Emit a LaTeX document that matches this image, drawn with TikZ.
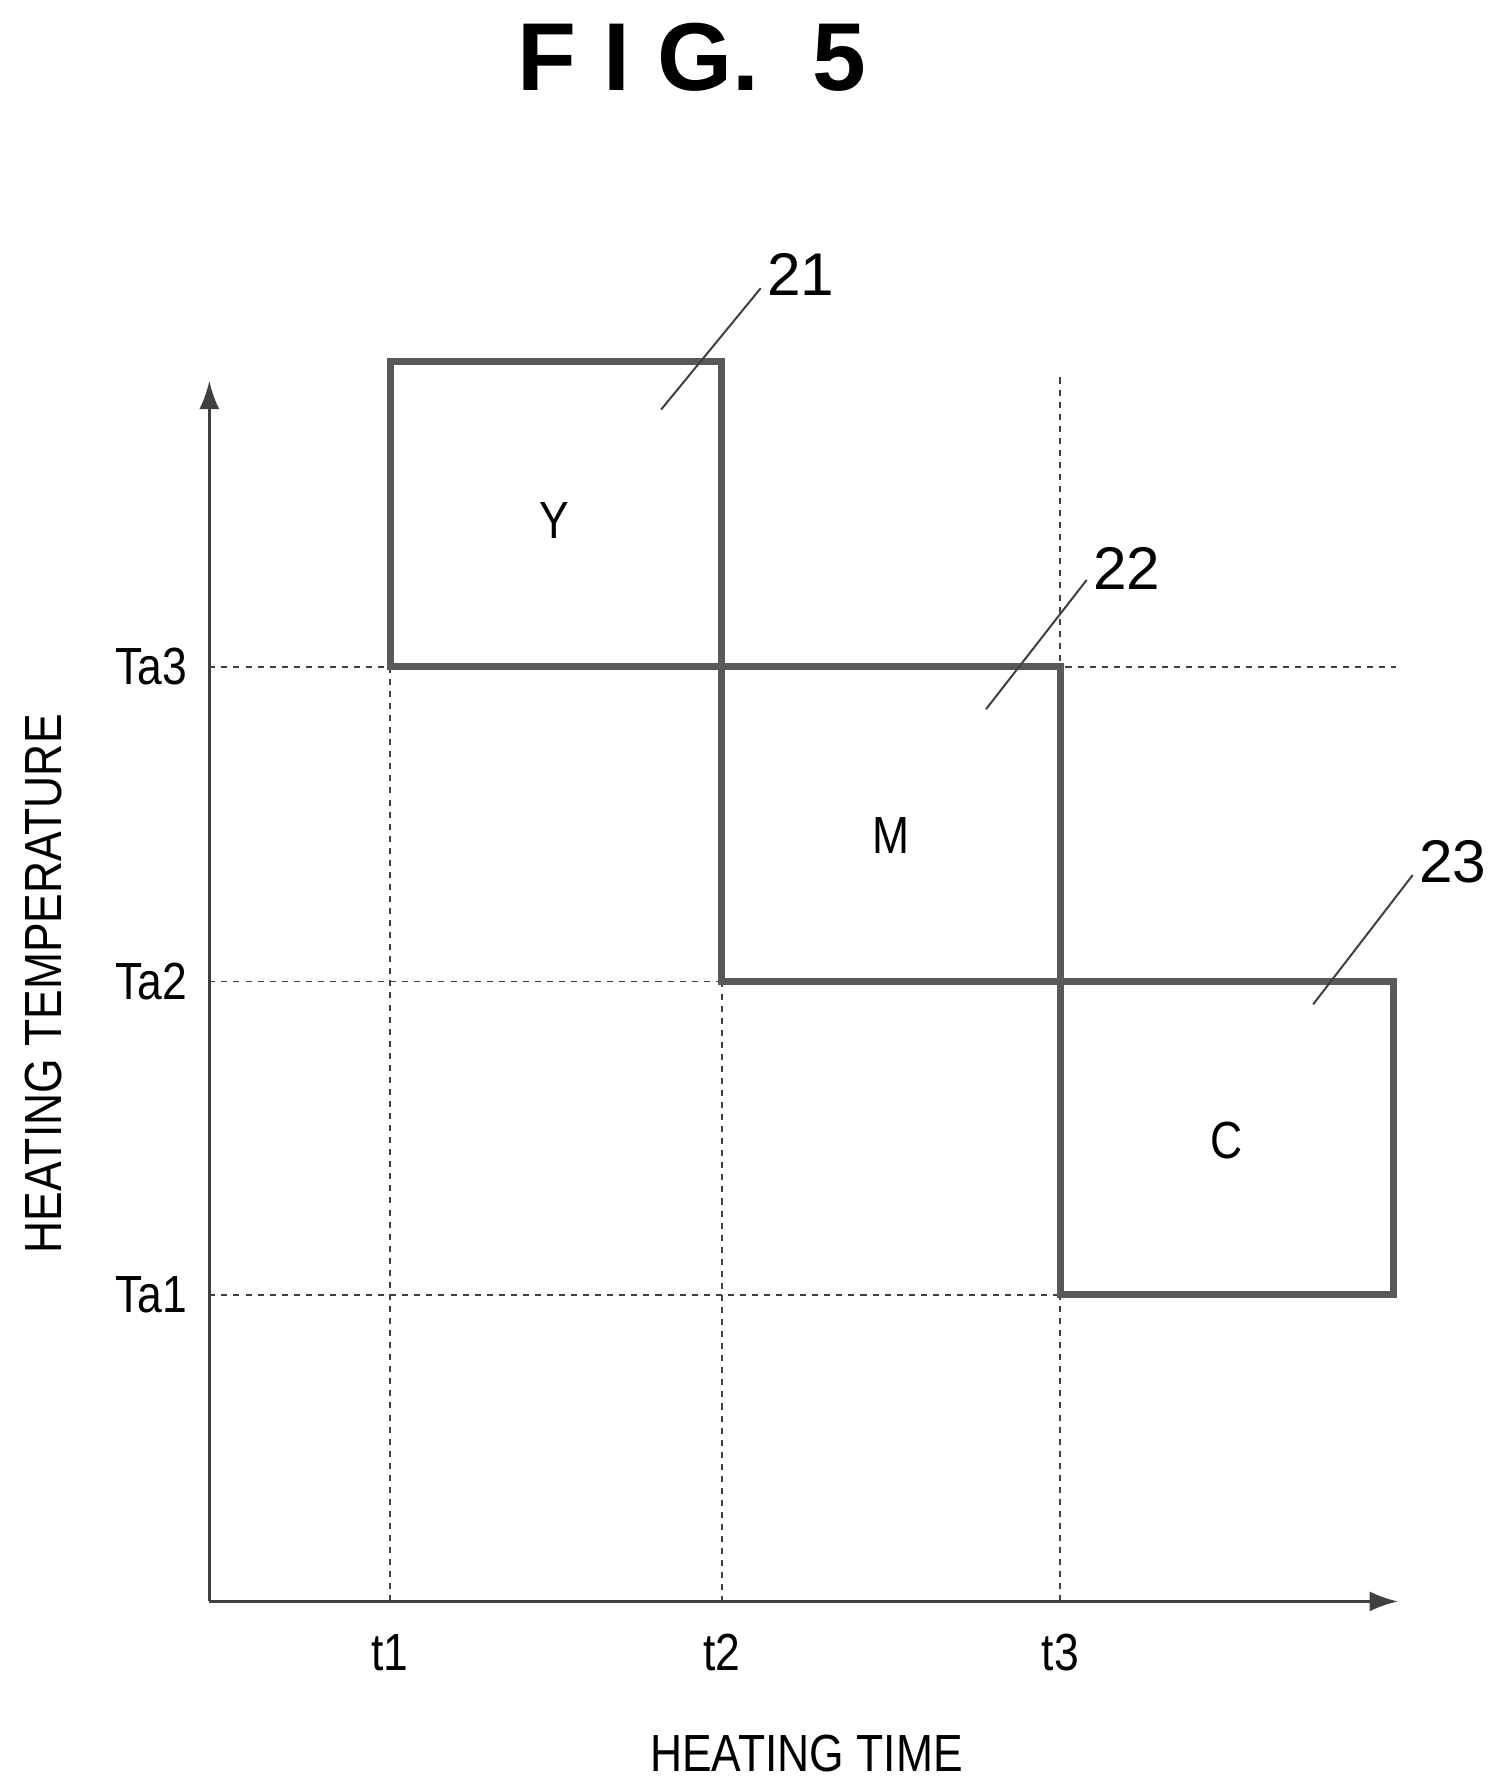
\documentclass[tikz,border=0pt]{standalone}
\usepackage{fontspec}
\setmainfont{Liberation Sans}
\usetikzlibrary{arrows.meta}
\begin{document}
\begin{tikzpicture}[x=0.02cm,y=-0.02cm,
  dsh/.style={draw=black!75,dashed,line width=0.9pt},
  box/.style={draw=black!65,line width=3.5pt,line join=miter},
  lead/.style={draw=black!75,line width=1pt},
  lbl/.style={font=\fontsize{26}{30}\selectfont\addfontfeature{FakeStretch=0.85}},
  num/.style={font=\fontsize{30}{34}\selectfont}]
\useasboundingbox (0,0) rectangle (1305,1557);
\node[font=\fontsize{48}{54}\selectfont\bfseries] (title) at (605,50) {F I G.\ \ 5};
% dashed
\draw[dsh] (183,583) -- (1220,583);
\draw[dsh] (183,858) -- (927,858);
\draw[dsh] (183,1132) -- (927,1132);
\draw[dsh] (341,583) -- (341,1400);
\draw[dsh] (631,858) -- (631,1400);
\draw[dsh] (927,330) -- (927,1400);
% axes
\coordinate (O) at (183,1400);
\coordinate (yt) at (183,333);
\coordinate (xt) at (1222,1400);
\draw[line width=1.3pt,black!75,-{Latex[length=14pt,width=10pt]}] (O) -- (yt);
\draw[line width=1.3pt,black!75,-{Latex[length=14pt,width=10pt]}] (O) -- (xt);
% boxes
\draw[box] (341,316) rectangle (631,583);
\draw[box] (631,583) rectangle (927,858);
\draw[box] (927,858) rectangle (1218,1132);
\node[lbl] (Y) at (485,455) {Y};
\node[lbl] (M) at (779,730) {M};
\node[lbl] (C) at (1072,997) {C};
% leaders
\node[num] (n21) at (700,240) {21};
\node[num] (n22) at (985,497) {22};
\node[num] (n23) at (1270,753) {23};
\coordinate (a21) at (578,358); \coordinate (b21) at (665,252);
\coordinate (a22) at (862,620); \coordinate (b22) at (950,507);
\coordinate (a23) at (1148,878); \coordinate (b23) at (1235,765);
\draw[lead] (a21) -- (b21);
\draw[lead] (a22) -- (b22);
\draw[lead] (a23) -- (b23);
% tick labels
\node[lbl] (ta3) at (132,583) {Ta3};
\node[lbl] (ta2) at (132,858) {Ta2};
\node[lbl] (ta1) at (132,1132) {Ta1};
\node[lbl] (t1) at (341,1445) {t1};
\node[lbl] (t2) at (631,1445) {t2};
\node[lbl] (t3) at (927,1445) {t3};
\node[lbl] (xl) at (705,1533) {HEATING TIME};
\node[lbl,rotate=90] (yl) at (38,860) {HEATING TEMPERATURE};
\end{tikzpicture}
\end{document}
